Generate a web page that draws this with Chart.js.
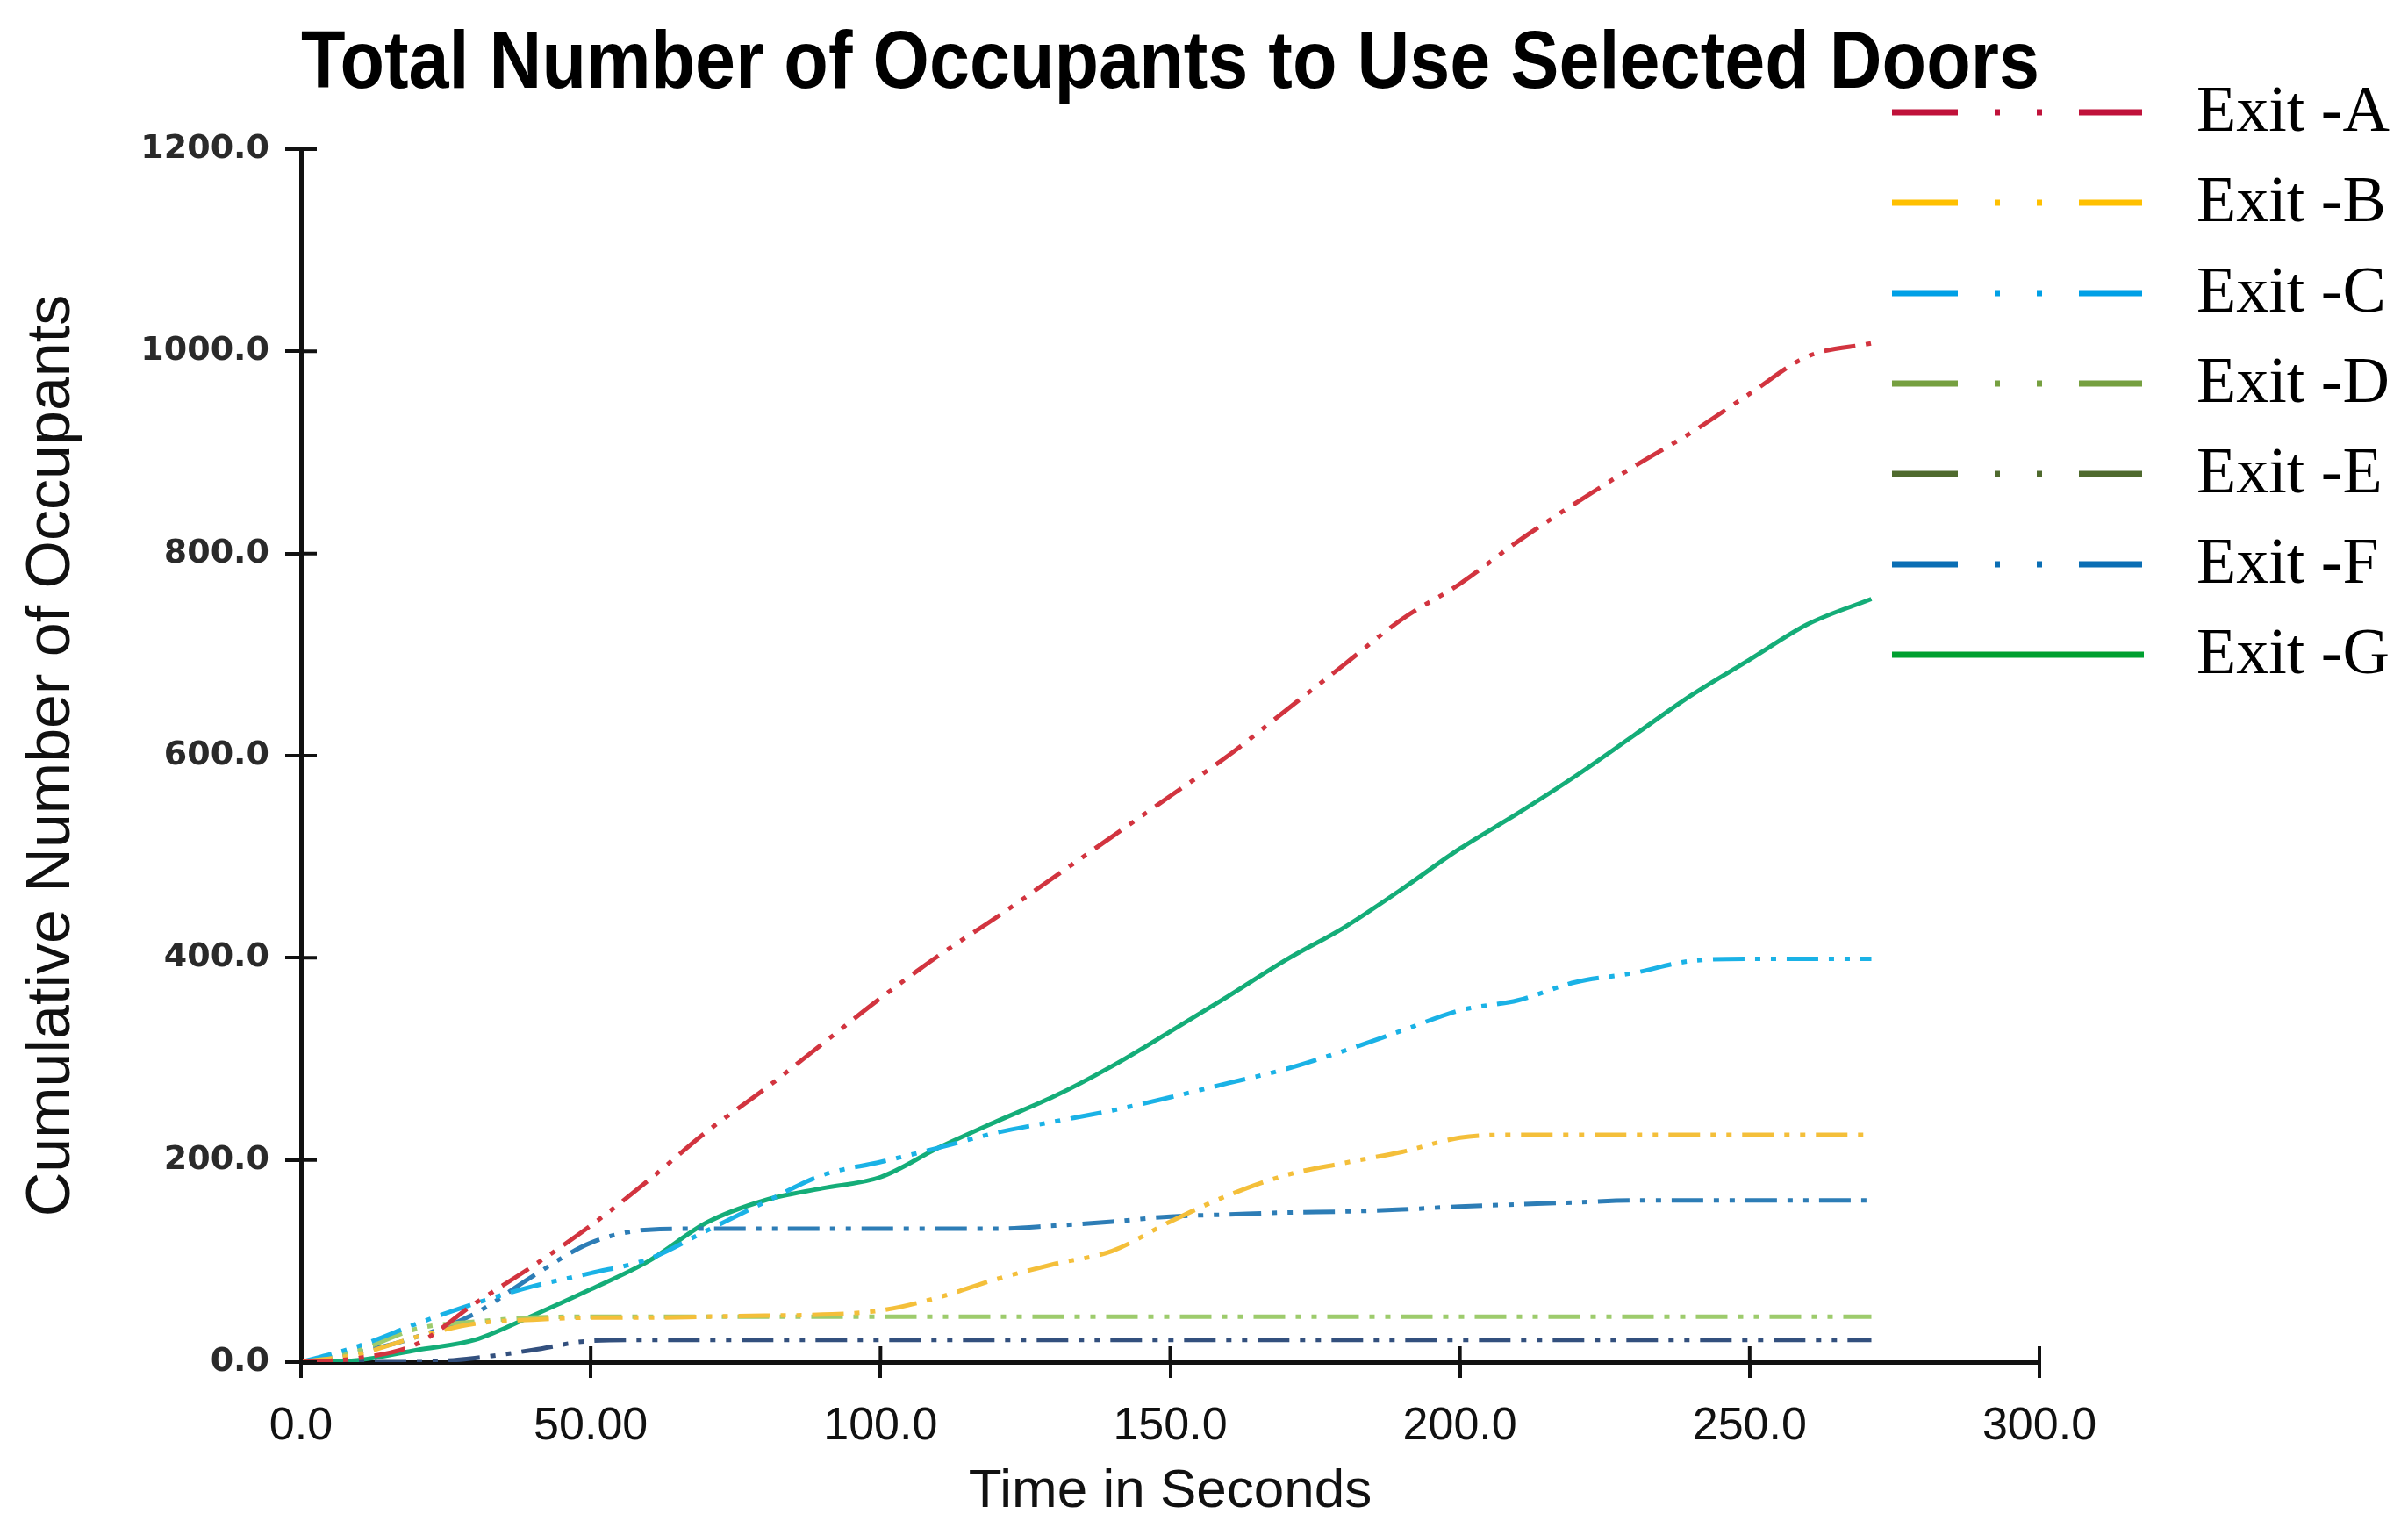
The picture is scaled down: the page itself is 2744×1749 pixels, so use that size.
<!DOCTYPE html>
<html>
<head>
<meta charset="utf-8">
<title>Total Number of Occupants to Use Selected Doors</title>
<script src="https://cdn.jsdelivr.net/npm/chart.js@4.4.1/dist/chart.umd.min.js"></script>
<style>
  html, body { margin: 0; padding: 0; background: #fff; }
  #grafo { display: block; width: 2744px; height: 1749px; }
</style>
</head>
<body>
<canvas id="grafo" width="2744" height="1749"></canvas>
<script>
// tiempos (s) y valores
const tiempos = [0, 10, 20, 30, 40, 50, 60, 70, 80, 90, 100, 110, 120, 130, 140, 150, 160, 170, 180, 190, 200, 210, 220, 230, 240, 250, 260, 271];

const exitA = [0, 4, 18, 58, 95, 135, 180, 228, 270, 315, 360, 402, 440, 480, 520, 560, 600, 645, 690, 735, 770, 812, 850, 886, 920, 958, 995, 1008];
const exitB = [0, 8, 25, 38, 42, 44, 44, 45, 46, 47, 51, 64, 82, 97, 110, 139, 165, 185, 197, 208, 222, 225, 225, 225, 225, 225, 225, 225];
const exitC = [0, 16, 38, 58, 75, 88, 102, 130, 158, 185, 198, 212, 227, 238, 249, 262, 276, 290, 308, 328, 348, 358, 376, 385, 397, 399, 399, 399];
const exitD = [0, 12, 33, 40, 44, 45, 45, 45, 45, 45, 45, 45, 45, 45, 45, 45, 45, 45, 45, 45, 45, 45, 45, 45, 45, 45, 45, 45];
const exitE = [0, 0, 0, 4, 12, 21, 22, 22, 22, 22, 22, 22, 22, 22, 22, 22, 22, 22, 22, 22, 22, 22, 22, 22, 22, 22, 22, 22];
const exitF = [0, 10, 25, 48, 85, 118, 131, 132, 132, 132, 132, 132, 132, 135, 139, 144, 146, 148, 149, 151, 154, 156, 158, 160, 160, 160, 160, 160];
const exitG = [0, 2, 12, 22, 46, 72, 100, 138, 160, 172, 183, 212, 238, 263, 293, 327, 362, 398, 430, 468, 508, 543, 580, 620, 660, 695, 730, 755];

const nombres = ['Exit -A', 'Exit -B', 'Exit -C', 'Exit -D', 'Exit -E', 'Exit -F', 'Exit -G'];
const series = [exitA, exitB, exitC, exitD, exitE, exitF, exitG];

const xTicks = ['0.0', '50.00', '100.0', '150.0', '200.0', '250.0', '300.0'];
const yTicks = ['0.0', '200.0', '400.0', '600.0', '800.0', '1000.0', '1200.0'];

// colores de las lineas y de la leyenda (no son iguales en la figura)
const coloresLinea = ['#d2343f', '#f4bf3a', '#1ab2e6', '#9dcb6c', '#33507e', '#2d7db6', '#14ad78'];
const coloresLeyenda = ['#c0123a', '#ffc000', '#00a0e6', '#76a040', '#4f6a2e', '#0a6eb4', '#00a030'];

const guionPunto = [36, 12, 6, 12, 6, 12];
const narrow = "'Liberation Sans Narrow', 'Arial Narrow', 'Liberation Sans', sans-serif";

let datasets = series.map((valores, i) => ({
  label: nombres[i],
  data: tiempos.map((t, k) => ({ x: t, y: valores[k] })),
  borderColor: coloresLinea[i],
  backgroundColor: coloresLinea[i],
  borderWidth: 5,
  borderDash: i === 6 ? [] : guionPunto,
  pointRadius: 0,
  fill: false,
  cubicInterpolationMode: 'monotone'
}));

// ticks que cruzan el eje hacia dentro
const ticksCruzados = {
  id: 'ticksCruzados',
  afterDraw(chart) {
    const ctx = chart.ctx;
    const xs = chart.scales.x, ys = chart.scales.y;
    ctx.save();
    ctx.strokeStyle = '#111';
    ctx.lineWidth = 4;
    ctx.beginPath();
    xs.ticks.forEach(t => {
      const px = xs.getPixelForValue(t.value);
      ctx.moveTo(px, xs.top);
      ctx.lineTo(px, xs.top - 18);
    });
    ys.ticks.forEach(t => {
      const py = ys.getPixelForValue(t.value);
      ctx.moveTo(ys.right, py);
      ctx.lineTo(ys.right + 18, py);
    });
    ctx.stroke();
    ctx.restore();
  }
};

// leyenda a la derecha, encima del area
const leyendaSalidas = {
  id: 'leyendaSalidas',
  afterDraw(chart) {
    const ctx = chart.ctx;
    ctx.save();
    chart.data.datasets.forEach((ds, i) => {
      const y = 128 + i * 103;
      ctx.strokeStyle = coloresLeyenda[i];
      ctx.lineWidth = 7;
      ctx.lineCap = 'butt';
      ctx.setLineDash(i === 6 ? [] : [75, 42, 6, 42, 6, 42]);
      ctx.beginPath();
      ctx.moveTo(2156, y);
      ctx.lineTo(i === 6 ? 2443 : 2441, y);
      ctx.stroke();
      ctx.setLineDash([]);
      ctx.fillStyle = '#000';
      ctx.font = "74px 'Liberation Serif', 'Times New Roman', serif";
      ctx.textBaseline = 'middle';
      ctx.textAlign = 'left';
      ctx.fillText(ds.label, 2503, y + 2);
    });
    ctx.restore();
  }
};

const grafica = new Chart(document.getElementById('grafo'), {
  type: 'line',
  data: { datasets: datasets },
  plugins: [ticksCruzados, leyendaSalidas],
  options: {
    responsive: false,
    animation: false,
    devicePixelRatio: 1,
    layout: { padding: { top: 10, right: 420, bottom: 0, left: 0 } },
    plugins: {
      legend: { display: false },
      tooltip: { enabled: false },
      title: {
        display: true,
        fullSize: false,
        text: 'Total Number of Occupants to Use Selected Doors',
        color: '#000',
        font: { family: narrow, size: 92, weight: 'bold', lineHeight: 1.2 },
        padding: { top: 9, bottom: 40.6 }
      }
    },
    scales: {
      x: {
        type: 'linear',
        min: 0,
        max: 300,
        afterFit: (scale) => { scale.height = 197; },
        border: { display: true, color: '#111', width: 5 },
        grid: { drawOnChartArea: false, drawTicks: true, tickLength: 18, color: '#111', lineWidth: 4 },
        ticks: {
          stepSize: 50,
          padding: 24,
          color: '#111',
          font: { family: narrow, size: 52 },
          maxRotation: 0,
          callback: (v) => xTicks[v / 50]
        },
        title: {
          display: true,
          text: 'Time in Seconds',
          color: '#111',
          font: { family: narrow, size: 62 },
          padding: { top: 0, bottom: 12 }
        }
      },
      y: {
        min: 0,
        max: 1200,
        afterFit: (scale) => { scale.width = 343; },
        border: { display: true, color: '#111', width: 5 },
        grid: { drawOnChartArea: false, drawTicks: true, tickLength: 18, color: '#111', lineWidth: 4 },
        ticks: {
          stepSize: 200,
          padding: 18,
          color: '#2a2a2a',
          font: { family: "'DejaVu Sans', sans-serif", size: 38, weight: 'bold' },
          callback: (v) => yTicks[v / 200]
        },
        title: {
          display: true,
          text: 'Cumulative Number of Occupants',
          color: '#111',
          font: { family: narrow, size: 70 },
          padding: { top: 18, bottom: 0 }
        }
      }
    }
  }
});
</script>
</body>
</html>
